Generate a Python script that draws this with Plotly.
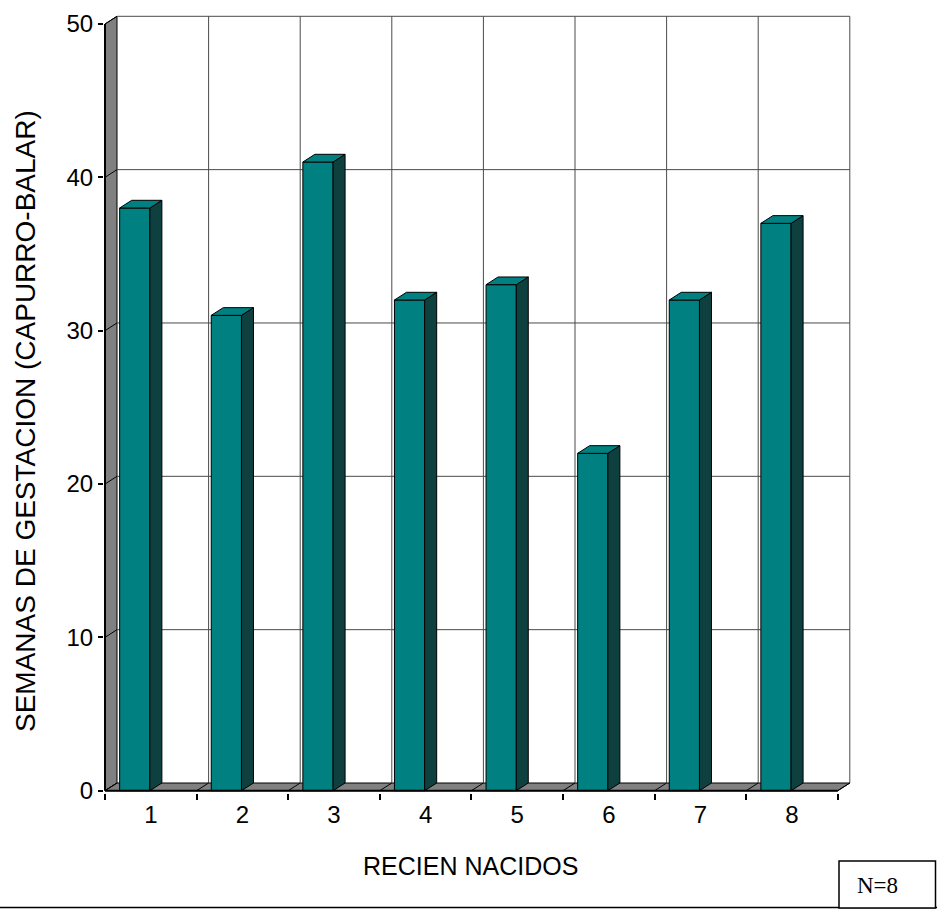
import plotly.graph_objects as go

# Recién nacidos (1..8) and their gestational age in weeks (Capurro-Balar)
categories = ["1", "2", "3", "4", "5", "6", "7", "8"]
weeks = [38, 31, 41, 32, 33, 22, 32, 37]
y_ticks = [0, 10, 20, 30, 40, 50]

x_pos = list(range(1, len(categories) + 1))

# Pixel scale of the plot area (used to place the pseudo-3D depth)
KX = 91.6      # px per category
KY = 15.334    # px per week
DX = 12 / KX   # depth offset along x (data units)
DY = 7.7 / KY  # depth offset along y (data units)
BAR_OFFSET = -0.34
BAR_WIDTH = 0.33

TEAL = "#008080"
SIDE = "#0f4040"
WALL = "#808080"
GRID = "#4a4a4a"

L, R, T, B = 104, 82, 10, 116
W, H = 937, 909
pw, ph = W - L - R, H - T - B
x0_range = 0.5 - 1 / KX
y0_range = -2.3 / KY
x_range = [x0_range, x0_range + pw / KX]
y_range = [y0_range, y0_range + ph / KY]


def px_x(p):
    return (p - L) / pw


def px_y(p):
    return (H - B - p) / ph


fig = go.Figure()

# Front faces of the bars
fig.add_bar(
    x=x_pos, y=weeks, offset=BAR_OFFSET, width=BAR_WIDTH,
    marker=dict(color=TEAL, line=dict(color="black", width=1)),
    hoverinfo="skip", showlegend=False,
)

# Side and top faces, built from the same values
side_x, side_y, top_x, top_y = [], [], [], []
for xc, v in zip(x_pos, weeks):
    xl = xc + BAR_OFFSET
    xr = xl + BAR_WIDTH
    side_x += [xr, xr, xr + DX, xr + DX, xr, None]
    side_y += [0, v, v + DY, DY, 0, None]
    top_x += [xl, xr, xr + DX, xl + DX, xl, None]
    top_y += [v, v, v + DY, v + DY, v, None]

fig.add_scatter(x=side_x, y=side_y, mode="lines", fill="toself",
                fillcolor=SIDE, line=dict(color="black", width=1),
                hoverinfo="skip", showlegend=False)
fig.add_scatter(x=top_x, y=top_y, mode="lines", fill="toself",
                fillcolor=TEAL, line=dict(color="black", width=1),
                hoverinfo="skip", showlegend=False)

shapes = []
n = len(categories)
xa, xb = 0.5, n + 0.5
ymax = y_ticks[-1]

# Left wall and floor
shapes.append(dict(type="path", xref="x", yref="y", layer="below",
                   path=f"M{xa},0 L{xa},{ymax} L{xa+DX},{ymax+DY} L{xa+DX},{DY} Z",
                   fillcolor=WALL, line=dict(color="black", width=1)))
shapes.append(dict(type="path", xref="x", yref="y", layer="below",
                   path=f"M{xa},0 L{xb},0 L{xb+DX},{DY} L{xa+DX},{DY} Z",
                   fillcolor=WALL, line=dict(color="black", width=1)))

# Back-wall horizontal gridlines and their diagonals on the side wall
for v in y_ticks[1:]:
    shapes.append(dict(type="line", xref="x", yref="y", layer="below",
                       x0=xa + DX, x1=xb + DX, y0=v + DY, y1=v + DY,
                       line=dict(color=GRID, width=1)))
    shapes.append(dict(type="line", xref="x", yref="y", layer="below",
                       x0=xa, x1=xa + DX, y0=v, y1=v + DY,
                       line=dict(color="black", width=1)))

# Back-wall vertical gridlines and floor dividers at category boundaries
for k in range(n + 1):
    xv = xa + k
    if k > 0:
        shapes.append(dict(type="line", xref="x", yref="y", layer="below",
                           x0=xv + DX, x1=xv + DX, y0=DY, y1=ymax + DY,
                           line=dict(color=GRID, width=1)))
    shapes.append(dict(type="line", xref="x", yref="y", layer="below",
                       x0=xv, x1=xv + DX, y0=0, y1=DY,
                       line=dict(color="black", width=1)))

# Front axis edges
shapes.append(dict(type="line", xref="x", yref="y", x0=xa, x1=xb, y0=0, y1=0,
                   line=dict(color="black", width=2)))
shapes.append(dict(type="line", xref="x", yref="y", x0=xa, x1=xa, y0=0, y1=ymax,
                   line=dict(color="black", width=2)))

# Sample-size box and bottom rule
shapes.append(dict(type="line", xref="paper", yref="paper",
                   x0=px_x(0), x1=px_x(W), y0=px_y(907.5), y1=px_y(907.5),
                   line=dict(color="black", width=1.5)))
shapes.append(dict(type="rect", xref="paper", yref="paper",
                   x0=px_x(839), x1=px_x(935.5), y0=px_y(908), y1=px_y(861),
                   line=dict(color="black", width=1.5), fillcolor="white"))

annotations = [
    dict(text="SEMANAS DE GESTACION (CAPURRO-BALAR)", textangle=-90,
         xref="paper", yref="paper", x=px_x(25), y=px_y(421),
         xanchor="center", yanchor="middle", showarrow=False,
         font=dict(family="Liberation Sans, Arial", size=28, color="black")),
    dict(text="RECIEN NACIDOS", xref="paper", yref="paper",
         x=px_x(470), y=px_y(866), xanchor="center", yanchor="middle",
         showarrow=False,
         font=dict(family="Liberation Sans, Arial", size=25, color="black")),
    dict(text="N=8", xref="paper", yref="paper",
         x=px_x(877), y=px_y(885), xanchor="center", yanchor="middle",
         showarrow=False,
         font=dict(family="Liberation Serif, Times New Roman", size=23, color="black")),
]

fig.update_layout(
    width=W, height=H,
    margin=dict(l=L, r=R, t=T, b=B),
    paper_bgcolor="white", plot_bgcolor="white",
    shapes=shapes, annotations=annotations,
    showlegend=False,
    font=dict(family="Liberation Sans, Arial", size=24, color="black"),
)
fig.update_xaxes(
    range=x_range, showgrid=False, zeroline=False, showline=False,
    tickmode="array", tickvals=x_pos, ticktext=categories, ticks="",
    ticklabelstandoff=5,
    tickfont=dict(size=24, color="black"),
    minor=dict(tickmode="array", tickvals=[xa + k for k in range(n + 1)],
               ticks="outside", ticklen=6, tickcolor="black", tickwidth=1.5,
               showgrid=False),
)
fig.update_yaxes(
    range=y_range, showgrid=False, zeroline=False, showline=False,
    tickmode="array", tickvals=y_ticks, ticks="outside", ticklen=5,
    tickcolor="black", tickwidth=1.5,
    tickfont=dict(size=24, color="black"),
)

fig.write_html("out.html")
